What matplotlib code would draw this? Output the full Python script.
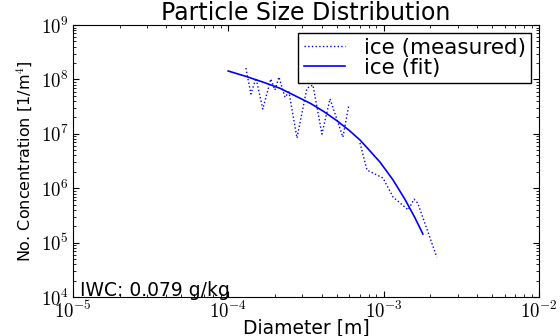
import numpy as np
import matplotlib
matplotlib.use("Agg")
import matplotlib.pyplot as plt
from matplotlib.ticker import FuncFormatter

# measured ice size distribution (nan = empty bin, masked on log axis)
diam_meas = [1.30e-4, 1.40e-4, 1.51e-4, 1.67e-4, 1.88e-4, 2.00e-4, 2.12e-4,
             2.32e-4, 2.46e-4, 2.77e-4, 3.21e-4, 3.51e-4, 4.01e-4, 4.52e-4,
             5.47e-4, 5.98e-4, 6.53e-4, 7.05e-4, 7.82e-4, 9.91e-4, 1.15e-3,
             1.44e-3, 1.57e-3, 1.66e-3, 2.20e-3]
conc_meas = [1.62e8, 5.4e7, 1.06e8, 2.86e7, 1.02e8, 6.4e7, 1.11e8,
             4.7e7, 5.9e7, 8.4e6, 6.9e7, 7.9e7, 9.9e6, 4.4e7,
             8.7e6, 3.4e7, np.nan, 6.8e6, 2.16e6, 1.54e6, 6.9e5,
             4.0e5, 6.3e5, 5.3e5, 5.4e4]

# fitted distribution
diam_fit = [1.00e-4, 1.30e-4, 1.70e-4, 2.15e-4, 2.70e-4, 3.40e-4, 4.10e-4,
            5.00e-4, 6.00e-4, 7.05e-4, 8.20e-4, 9.50e-4, 1.15e-3, 1.37e-3,
            1.58e-3, 1.79e-3]
conc_fit = [1.43e8, 1.14e8, 8.8e7, 6.9e7, 5.0e7, 3.6e7, 2.6e7,
            1.75e7, 1.16e7, 7.7e6, 4.8e6, 3.0e6, 1.42e6, 6.3e5,
            2.98e5, 1.44e5]

iwc = 0.079

plt.rcParams['font.family'] = ['DejaVu Sans']
plt.rcParams['mathtext.fontset'] = 'cm'
plt.rcParams['mathtext.default'] = 'rm'
plt.rcParams['xtick.direction'] = 'in'
plt.rcParams['ytick.direction'] = 'in'
plt.rcParams['xtick.top'] = True
plt.rcParams['ytick.right'] = True
plt.rcParams['xtick.major.size'] = 4
plt.rcParams['ytick.major.size'] = 4
plt.rcParams['xtick.minor.size'] = 2
plt.rcParams['ytick.minor.size'] = 2

fig = plt.figure(figsize=(5.6, 3.36), dpi=100)
ax = fig.add_axes([0.130, 0.116, 0.8325, 0.8094])

ax.plot(diam_meas, conc_meas, ':', color='#0000ff', lw=1.0,
        label='ice (measured)')
ax.plot(diam_fit, conc_fit, '-', color='#0000ff', lw=1.2, label='ice (fit)')

ax.set_xscale('log')
ax.set_yscale('log')
ax.set_xlim(1e-5, 1e-2)
ax.set_ylim(1e4, 1e9)

pow10 = FuncFormatter(
    lambda v, p: r'$\mathrm{10}^{\mathrm{%d}}$' % round(np.log10(v)))
ax.xaxis.set_major_formatter(pow10)
ax.yaxis.set_major_formatter(pow10)
ax.tick_params(labelsize=13.5, pad=3)

ax.set_title('Particle Size Distribution', fontsize=17, pad=2)
ax.set_xlabel('Diameter [m]', fontsize=13.5, labelpad=-3)
ax.set_ylabel('No. Concentration [1/m$^{4}$]', fontsize=11.5, labelpad=5)

ax.text(0.016, 0.004, 'IWC: %.3f g/kg' % iwc, transform=ax.transAxes,
        fontsize=13.5, ha='left', va='baseline')

leg = ax.legend(loc='upper right', fontsize=15.5, fancybox=False,
                framealpha=1, edgecolor='black', handlelength=1.9,
                borderaxespad=0.35, borderpad=0.25, labelspacing=0.0,
                handletextpad=0.9)
leg.get_frame().set_linewidth(1.0)

fig.savefig('out.png', dpi=100)
